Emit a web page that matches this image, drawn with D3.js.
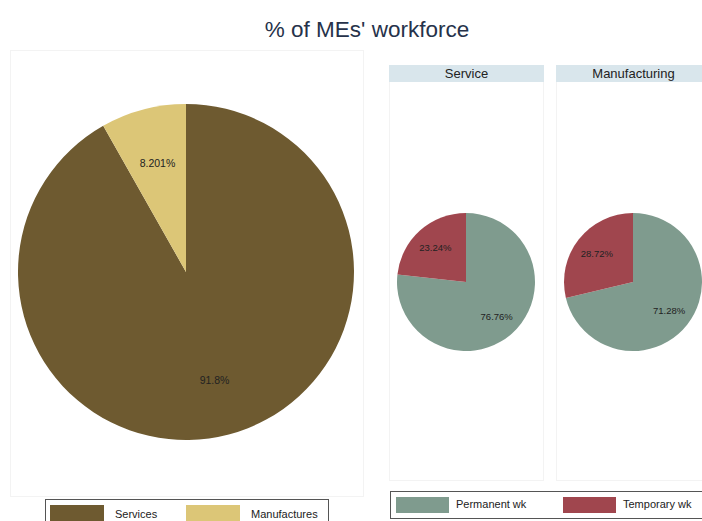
<!DOCTYPE html>
<html><head><meta charset="utf-8">
<script src="https://cdn.jsdelivr.net/npm/d3@7/dist/d3.min.js"></script>
<style>body{margin:0;background:#fff;font-family:"Liberation Sans",Arial,sans-serif;}</style>
</head><body><svg id="c" width="702" height="521"></svg>
<script>
const sectorLabels = ["Services", "Manufactures"];
const sectorValues = [91.8, 8.201];
const sectorText = ["91.8%", "8.201%"];
const panelNames = ["Service", "Manufacturing"];
const contractLabels = ["Permanent wk", "Temporary wk"];
const servicePanel = [76.76, 23.24];
const manufPanel = [71.28, 28.72];
const panelText = [["76.76%", "23.24%"], ["71.28%", "28.72%"]];

const svg = d3.select("#c");
const font = "'Liberation Sans', Arial, sans-serif";

svg.append("text").attr("x", 367).attr("y", 37).attr("text-anchor", "middle")
  .attr("font-size", 22.5).attr("fill", "#26324a").attr("font-family", font)
  .text("% of MEs' workforce");

const sectorColor = d3.scaleOrdinal().domain(sectorLabels).range(["#6e5a30", "#dcc677"]);
const contractColor = d3.scaleOrdinal().domain(contractLabels).range(["#7f9b8e", "#a0464e"]);
const pie = d3.pie().sort(null).value(d => d.v);

// Left panel
svg.append("rect").attr("x", 10.5).attr("y", 50.5).attr("width", 353).attr("height", 446)
  .attr("fill", "none").attr("stroke", "#f3f3f3");
const leftData = sectorLabels.map((k, i) => ({k, v: sectorValues[i], t: sectorText[i]}));
const gL = svg.append("g").attr("transform", "translate(186,272)");
const arcL = d3.arc().innerRadius(0).outerRadius(168);
const labL = d3.arc().innerRadius(112).outerRadius(112);
const arcsL = pie(leftData);
gL.selectAll("path").data(arcsL).join("path").attr("d", arcL)
  .attr("fill", d => sectorColor(d.data.k));
gL.selectAll("text").data(arcsL).join("text")
  .attr("transform", d => `translate(${labL.centroid(d)})`)
  .attr("text-anchor", "middle").attr("dy", "0.35em")
  .attr("font-size", 10.5).attr("fill", "#222").attr("font-family", font)
  .text(d => d.data.t);

// Right panels
const panelsData = [servicePanel, manufPanel];
const px = [389, 556];
const arcR = d3.arc().innerRadius(0).outerRadius(69);
const labR = d3.arc().innerRadius(46).outerRadius(46);
panelsData.forEach((vals, p) => {
  const x0 = px[p];
  svg.append("rect").attr("x", x0 + 0.5).attr("y", 65.5).attr("width", 154).attr("height", 415)
    .attr("fill", "none").attr("stroke", "#f3f3f3");
  svg.append("rect").attr("x", x0).attr("y", 65).attr("width", 155).attr("height", 17)
    .attr("fill", "#d9e6ec");
  svg.append("text").attr("x", x0 + 77.5).attr("y", 78).attr("text-anchor", "middle")
    .attr("font-size", 13).attr("fill", "#222").attr("font-family", font).text(panelNames[p]);
  const data = contractLabels.map((k, i) => ({k, v: vals[i], t: panelText[p][i]}));
  const g = svg.append("g").attr("transform", `translate(${x0 + 77},282)`);
  const arcs = pie(data);
  g.selectAll("path").data(arcs).join("path").attr("d", arcR)
    .attr("fill", d => contractColor(d.data.k));
  g.selectAll("text").data(arcs).join("text")
    .attr("transform", d => `translate(${labR.centroid(d)})`)
    .attr("text-anchor", "middle").attr("dy", "0.35em")
    .attr("font-size", 9.5).attr("fill", "#222").attr("font-family", font)
    .text(d => d.data.t);
});

// Left legend
svg.append("rect").attr("x", 45.5).attr("y", 499.5).attr("width", 283).attr("height", 30)
  .attr("fill", "none").attr("stroke", "#555");
sectorLabels.forEach((k, i) => {
  const x = 50 + i * 136;
  svg.append("rect").attr("x", x).attr("y", 505).attr("width", 54).attr("height", 20).attr("fill", sectorColor(k));
  svg.append("text").attr("x", x + 65).attr("y", 518).attr("font-size", 11).attr("fill", "#222")
    .attr("font-family", font).text(k);
});

// Right legend
svg.append("rect").attr("x", 390.5).attr("y", 491.5).attr("width", 320).attr("height", 27)
  .attr("fill", "none").attr("stroke", "#555");
contractLabels.forEach((k, i) => {
  const x = 396 + i * 167;
  svg.append("rect").attr("x", x).attr("y", 497).attr("width", 53).attr("height", 16).attr("fill", contractColor(k));
  svg.append("text").attr("x", x + 60).attr("y", 508).attr("font-size", 11).attr("fill", "#222")
    .attr("font-family", font).text(k);
});
</script></body></html>
